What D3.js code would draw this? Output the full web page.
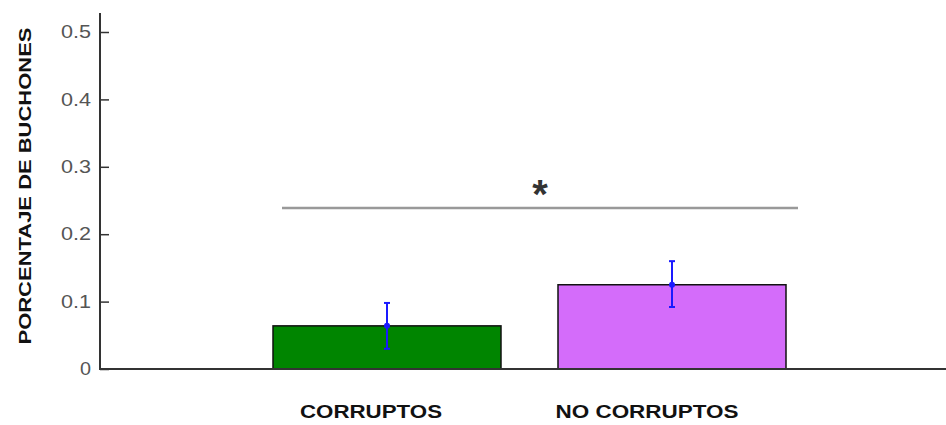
<!DOCTYPE html>
<html><head><meta charset="utf-8">
<script src="https://cdn.jsdelivr.net/npm/d3@7"></script>
<style>body{margin:0;background:#fff}svg{display:block}</style>
</head><body>
<script>
const categories = ["CORRUPTOS", "NO CORRUPTOS"];
const values = [0.064, 0.125];
const errLow = [0.030, 0.092];
const errHigh = [0.098, 0.160];
const colors = ["#008500", "#d46cfa"];
const yTicks = [0, 0.1, 0.2, 0.3, 0.4, 0.5];
const yTickLabels = ["0", "0.1", "0.2", "0.3", "0.4", "0.5"];
const sigValue = 0.239;
const yLabel = "PORCENTAJE DE BUCHONES";

const W = 946, H = 425;
const FONT = "Liberation Sans, Arial, sans-serif";
const svg = d3.select("body").append("svg").attr("width", W).attr("height", H);

const x = d3.scaleLinear().domain([0, 3]).range([102, 957]);
const y = d3.scaleLinear().domain([0, 0.5]).range([369, 32]);
const barW = 0.8;

// bars
svg.selectAll("rect.bar").data(values).enter().append("rect")
  .attr("x", (d, i) => x(i + 1 - barW / 2))
  .attr("y", d => y(d))
  .attr("width", (d, i) => x(i + 1 + barW / 2) - x(i + 1 - barW / 2))
  .attr("height", d => y(0) - y(d))
  .attr("fill", (d, i) => colors[i])
  .attr("stroke", "#111").attr("stroke-width", 1.5);

// error bars
const eb = svg.append("g").attr("stroke", "#1a1aff").attr("stroke-width", 2).attr("fill", "none");
values.forEach((v, i) => {
  const cx = x(i + 1);
  eb.append("line").attr("x1", cx).attr("x2", cx).attr("y1", y(errLow[i])).attr("y2", y(errHigh[i]));
  eb.append("line").attr("x1", cx - 3).attr("x2", cx + 3).attr("y1", y(errLow[i])).attr("y2", y(errLow[i]));
  eb.append("line").attr("x1", cx - 3).attr("x2", cx + 3).attr("y1", y(errHigh[i])).attr("y2", y(errHigh[i]));
  svg.append("circle").attr("cx", cx).attr("cy", y(v)).attr("r", 3).attr("fill", "#1a1aff");
});

// significance line
svg.append("line").attr("x1", 282).attr("x2", 798)
  .attr("y1", y(sigValue)).attr("y2", y(sigValue))
  .attr("stroke", "#999").attr("stroke-width", 2.5);
svg.append("text").attr("x", 540).attr("y", 208)
  .attr("text-anchor", "middle").attr("font-family", FONT)
  .attr("font-size", 40).attr("font-weight", "bold").attr("fill", "#333").text("*");

// y axis
const yAxis = d3.axisLeft(y).tickValues(yTicks).tickFormat((d, i) => yTickLabels[i])
  .tickSizeInner(-9).tickSizeOuter(0).tickPadding(9);
const ga = svg.append("g").attr("transform", "translate(100,0)").call(yAxis);
ga.select(".domain").remove();
ga.selectAll(".tick line").attr("stroke", "#333").attr("stroke-width", 1.5);
ga.selectAll(".tick text").attr("font-family", FONT)
  .attr("font-size", 18).attr("fill", "#555")
  .attr("textLength", (d, i) => yTickLabels[i].length === 1 ? 11 : 30)
  .attr("lengthAdjust", "spacingAndGlyphs");
svg.append("line").attr("x1", 100).attr("x2", 100).attr("y1", 13).attr("y2", 370)
  .attr("stroke", "#333").attr("stroke-width", 2);

// x axis line
svg.append("line").attr("x1", 99).attr("x2", W).attr("y1", y(0)).attr("y2", y(0))
  .attr("stroke", "#333").attr("stroke-width", 2);

// x labels
const labelCenters = [371, 647];
const labelWidths = [142, 183];
svg.selectAll("text.xl").data(categories).enter().append("text")
  .attr("x", (d, i) => labelCenters[i]).attr("y", 418)
  .attr("text-anchor", "middle")
  .attr("font-family", FONT)
  .attr("font-weight", "bold").attr("font-size", 18).attr("fill", "#111")
  .attr("textLength", (d, i) => labelWidths[i]).attr("lengthAdjust", "spacingAndGlyphs")
  .text(d => d);

// y label
svg.append("text").attr("transform", "translate(31,186) rotate(-90)")
  .attr("text-anchor", "middle")
  .attr("font-family", FONT)
  .attr("font-weight", "bold").attr("font-size", 17).attr("fill", "#111")
  .attr("textLength", 317).attr("lengthAdjust", "spacingAndGlyphs")
  .text(yLabel);
</script>
</body></html>
